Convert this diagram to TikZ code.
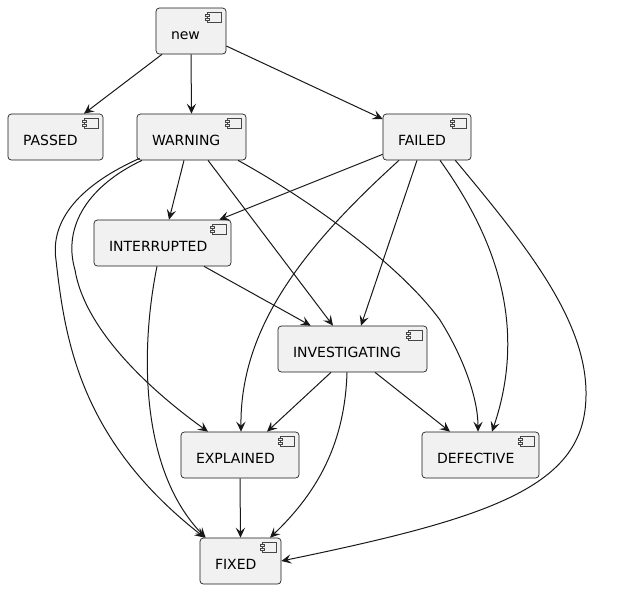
\documentclass[tikz,border=0pt]{standalone}
\usepackage{fontspec}
\setmainfont{DejaVu Sans}
\usetikzlibrary{arrows.meta}
\definecolor{boxfill}{HTML}{F1F1F1}
\definecolor{boxline}{HTML}{181818}

\begin{document}
\begin{tikzpicture}[x=0.75pt, y=-0.75pt,
comp/.style = {% component box
  rectangle, rounded corners=2.5pt, draw=boxline, line width=0.5pt, fill=boxfill,
  minimum height=34.5pt, minimum width=#1, text width=#1-22.5pt, inner xsep=11.25pt,
  align=left, text height=12.4pt, text depth=0pt, font=\fontsize{10.5}{12}\selectfont},
icon/.style = {draw=boxline!80, line width=0.3pt, fill=boxfill},
AR/.style = {% Arrow
  draw=boxline, line width=0.75pt, -{Stealth[length=7.5pt, width=7pt, inset=3pt]}}]
\useasboundingbox (0,0) rectangle (642,597);
% components
\node[comp=52.5pt]  (new)           at (191,31)    {new};
\node[comp=71.25pt] (PASSED)        at (55.5,137)  {PASSED};
\node[comp=81.75pt] (WARNING)       at (191.5,137) {WARNING};
\node[comp=66pt]    (FAILED)        at (427,137)   {FAILED};
\node[comp=102.75pt](INTERRUPTED)   at (162.5,243) {INTERRUPTED};
\node[comp=111.75pt](INVESTIGATING) at (352.5,349) {INVESTIGATING};
\node[comp=88.5pt]  (EXPLAINED)     at (240,455)   {EXPLAINED};
\node[comp=87.75pt] (DEFECTIVE)     at (480.5,455) {DEFECTIVE};
\node[comp=60.75pt] (FIXED)         at (240.5,561) {FIXED};
% component icons
\foreach \n in {new,PASSED,WARNING,FAILED,INTERRUPTED,INVESTIGATING,EXPLAINED,DEFECTIVE,FIXED}{
  \draw[icon] ([shift={(-19,5)}]\n.north east) rectangle ++(14,10);
  \draw[icon] ([shift={(-21,6.5)}]\n.north east) rectangle ++(4,2);
  \draw[icon] ([shift={(-21,10.5)}]\n.north east) rectangle ++(4,2);
}
% arrows from new
\draw[AR] ([shift={(-29,0)}]new.south) -- ([shift={(28.5,0)}]PASSED.north);
\draw[AR] (new.south) -- (WARNING.north);
\draw[AR] ([shift={(0,15)}]new.east) -- ([shift={(0,-18)}]FAILED.west);
% arrows from WARNING
\draw[AR] ([shift={(-7.5,0)}]WARNING.south) -- ([shift={(6.5,0)}]INTERRUPTED.north);
\draw[AR] ([shift={(16.5,0)}]WARNING.south) -- ([shift={(-19.5,0)}]INVESTIGATING.north);
\draw[AR] ([shift={(46.5,0)}]WARNING.south) .. controls (310,200) and (400,265) .. (440,320)
  .. controls (465,360) and (478,400) .. ([shift={(-2.5,0)}]DEFECTIVE.north);
\draw[AR] ([shift={(-49.5,0)}]WARNING.south) .. controls (90,185) and (62,225) .. (75,270)
  .. controls (85,330) and (150,390) .. ([shift={(-32,0)}]EXPLAINED.north);
\draw[AR] ([shift={(3,-2)}]WARNING.south west) .. controls (80,185) and (50,220) .. (56,260)
  .. controls (65,340) and (80,440) .. ([shift={(5,0)}]FIXED.north west);
% arrows from FAILED
\draw[AR] ([shift={(0,-6)}]FAILED.south west) -- ([shift={(-12,0)}]INTERRUPTED.north east);
\draw[AR] ([shift={(-10,0)}]FAILED.south) -- ([shift={(8.5,0)}]INVESTIGATING.north);
\draw[AR] ([shift={(-28,0)}]FAILED.south) .. controls (300,250) and (240,330) .. ([shift={(1,0)}]EXPLAINED.north);
\draw[AR] ([shift={(13,0)}]FAILED.south) .. controls (490,230) and (530,320) .. ([shift={(11.5,0)}]DEFECTIVE.north);
\draw[AR] ([shift={(-16,0)}]FAILED.south east) .. controls (530,250) and (595,330) .. (585,410)
  .. controls (575,490) and (480,520) .. (FIXED.east);
% arrows from INTERRUPTED
\draw[AR] ([shift={(41.5,0)}]INTERRUPTED.south) -- ([shift={(33,0)}]INVESTIGATING.north west);
\draw[AR] ([shift={(-5.5,0)}]INTERRUPTED.south) .. controls (140,350) and (140,470) .. ([shift={(6,0)}]FIXED.north west);
% arrows from INVESTIGATING
\draw[AR] ([shift={(-21.5,0)}]INVESTIGATING.south) -- ([shift={(27,0)}]EXPLAINED.north);
\draw[AR] ([shift={(22.5,0)}]INVESTIGATING.south) -- ([shift={(-30.5,0)}]DEFECTIVE.north);
\draw[AR] ([shift={(-5.5,0)}]INVESTIGATING.south) .. controls (345,440) and (320,490) .. ([shift={(29.5,0)}]FIXED.north);
% last one
\draw[AR] (EXPLAINED.south) -- (FIXED.north);
\end{tikzpicture}
\end{document}
